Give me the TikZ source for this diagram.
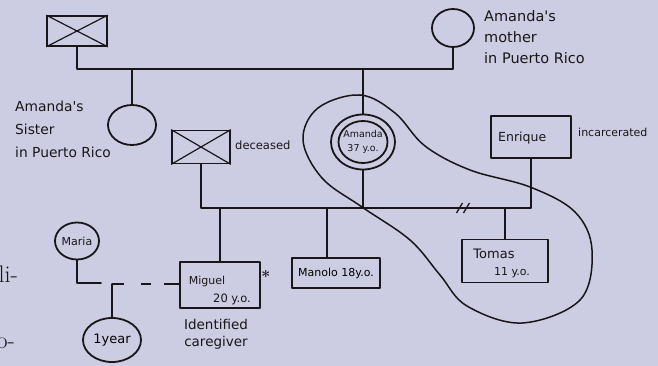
\documentclass[tikz,border=0pt]{standalone}
\usepackage{fontspec}
\newfontfamily\hand{DejaVu Sans}
\usetikzlibrary{shapes.geometric}
\definecolor{bgc}{RGB}{204,205,226}
\definecolor{ink}{RGB}{25,22,25}
\newcommand{\handsize}[2]{\hand\fontsize{#1}{#2}\selectfont}
\begin{document}
\begin{tikzpicture}[x=1pt,y=-1pt,
  ink line/.style={draw=ink,line width=1.8pt,line cap=round,line join=round},
  person box/.style={ink line,rectangle,inner sep=0pt,font=\hand},
  person circ/.style={ink line,ellipse,inner sep=0pt,font=\hand},
  hand text/.style={text=ink,font=\hand,inner sep=0pt}]
\fill[bgc] (0,0) rectangle (658,366);
\clip (0,0) rectangle (658,366);
% cropped body text at left edge
\node[text=ink,anchor=base east,font=\fontsize{24}{26}\selectfont,inner sep=0pt] (t1) at (18,282) {li-};
\node[text=ink,anchor=base east,font=\fontsize{24}{26}\selectfont,inner sep=0pt] (t2) at (15,348) {o-};
% grandparents
\node[person box,minimum width=60pt,minimum height=30pt] (gf) at (77,31) {};
\draw[draw=ink,line width=1.2pt] (gf.north west) -- (gf.south east) (gf.north east) -- (gf.south west);
\node[person circ,minimum width=42pt,minimum height=38pt] (gm) at (453,28) {};
\node[hand text,anchor=north west,align=left,font={\handsize{14.5}{21}}] (gmt) at (484,10) {Amanda's\\mother\\in Puerto Rico};
\coordinate (mline) at (0,69);
\draw[ink line] (gf.south) -- (gf.south |- mline) -- (gm.south |- mline) -- (gm.south);
% sister
\node[person circ,minimum width=48pt,minimum height=40pt] (sis) at (132,125) {};
\draw[ink line] (sis.north) -- (sis.north |- mline);
\node[hand text,anchor=north west,align=left,font={\handsize{13.8}{23}}] (sist) at (15,101) {Amanda's\\Sister\\in Puerto Rico};
% Amanda
\node[person circ,minimum width=64pt,minimum height=55pt] (amanda) at (363,142) {};
\node[person circ,minimum width=49pt,minimum height=42pt] (amandain) at (363,142) {};
\node[hand text,align=center,font={\handsize{9.5}{14}}] (amandat) at (amandain.center) {Amanda\\37 y.o.};
\draw[ink line] (amanda.north) -- (amanda.north |- mline);
% deceased husband
\node[person box,minimum width=58pt,minimum height=33pt] (hus) at (201,147) {};
\draw[draw=ink,line width=1.2pt] (hus.north west) -- (hus.south east) (hus.north east) -- (hus.south west);
\node[hand text,anchor=west,font={\handsize{11.5}{14}}] (dec) at (235,145) {deceased};
% Enrique
\node[person box,minimum width=80pt,minimum height=42pt] (enr) at (531,137) {};
\node[hand text,anchor=west,font={\handsize{12.5}{15}}] (enrt) at (498,138) {Enrique};
\node[hand text,anchor=west,font={\handsize{11}{13}}] (inc) at (578,132) {incarcerated};
% children line
\coordinate (cline) at (0,208);
\draw[ink line] (hus.south) -- (hus.south |- cline) -- (amanda.south |- cline) -- (amanda.south);
\draw[ink line] (amanda.south |- cline) -- (enr.south |- cline) -- (enr.south);
\path (amanda.south |- cline) -- (enr.south |- cline) coordinate[pos=0.61] (dbl);
\draw[draw=ink,line width=1.3pt] ([xshift=-6pt]dbl) ++(-3,5) -- ++(6,-10) ([xshift=1pt]dbl) ++(-3,5) -- ++(6,-10);
% children
\node[person box,minimum width=80pt,minimum height=46pt] (mig) at (220,285) {};
\node[hand text,font={\handsize{11}{13}}] (migt) at (207,281) {Miguel};
\node[hand text,font={\handsize{11.5}{13}}] (migage) at (232,299) {20 y.o.};
\node[hand text,font={\bfseries\fontsize{16}{16}\selectfont}] (ast) at (266,276) {*};
\node[hand text,align=center,font={\handsize{13.5}{17}}] (care) at (216,334) {Identified\\caregiver};
\draw[ink line] (mig.north) -- (mig.north |- cline);
\node[person box,minimum width=88pt,minimum height=30pt,font={\handsize{11}{13}}] (man) at (336,273) {Manolo 18y.o.};
\draw[ink line] ([xshift=-9pt]man.north) -- ([xshift=-9pt]man.north |- cline);
\node[person box,minimum width=86pt,minimum height=43pt] (tom) at (505,261) {};
\node[hand text,font={\handsize{13}{15}}] (tomt) at (494,254) {Tomas};
\node[hand text,font={\handsize{11}{13}}] (tomage) at (512,273) {11 y.o.};
\draw[ink line] (tom.north) -- (tom.north |- cline);
% Maria and child
\node[person circ,minimum width=44pt,minimum height=37pt] (maria) at (77,241) {};
\node[hand text,font={\handsize{11}{13}}] (mariat) at (maria.center) {Maria};
\node[person circ,minimum width=58pt,minimum height=44pt,font={\handsize{13}{15}}] (year) at (112,340) {1year};
\coordinate (jm) at (101,283);
\coordinate (jc) at (112,284);
\draw[ink line] (maria.south) -- (maria.south |- jm) -- (jm);
\draw[ink line] (year.north) -- (jc);
\draw[ink line,line cap=butt,dash pattern=on 12pt off 17pt on 10pt off 13pt on 40pt] (jc) -- (jc -| mig.west);
% household boundary
\draw[draw=ink,line width=1.5pt] plot[smooth cycle,tension=0.6] coordinates {
 (360,95) (395,113) (425,146) (470,170) (530,187) (575,212) (592,250)
 (580,300) (522,323) (467,306) (440,275) (410,240) (362,207) (322,178)
 (303,140) (318,108)};
\end{tikzpicture}
\end{document}
